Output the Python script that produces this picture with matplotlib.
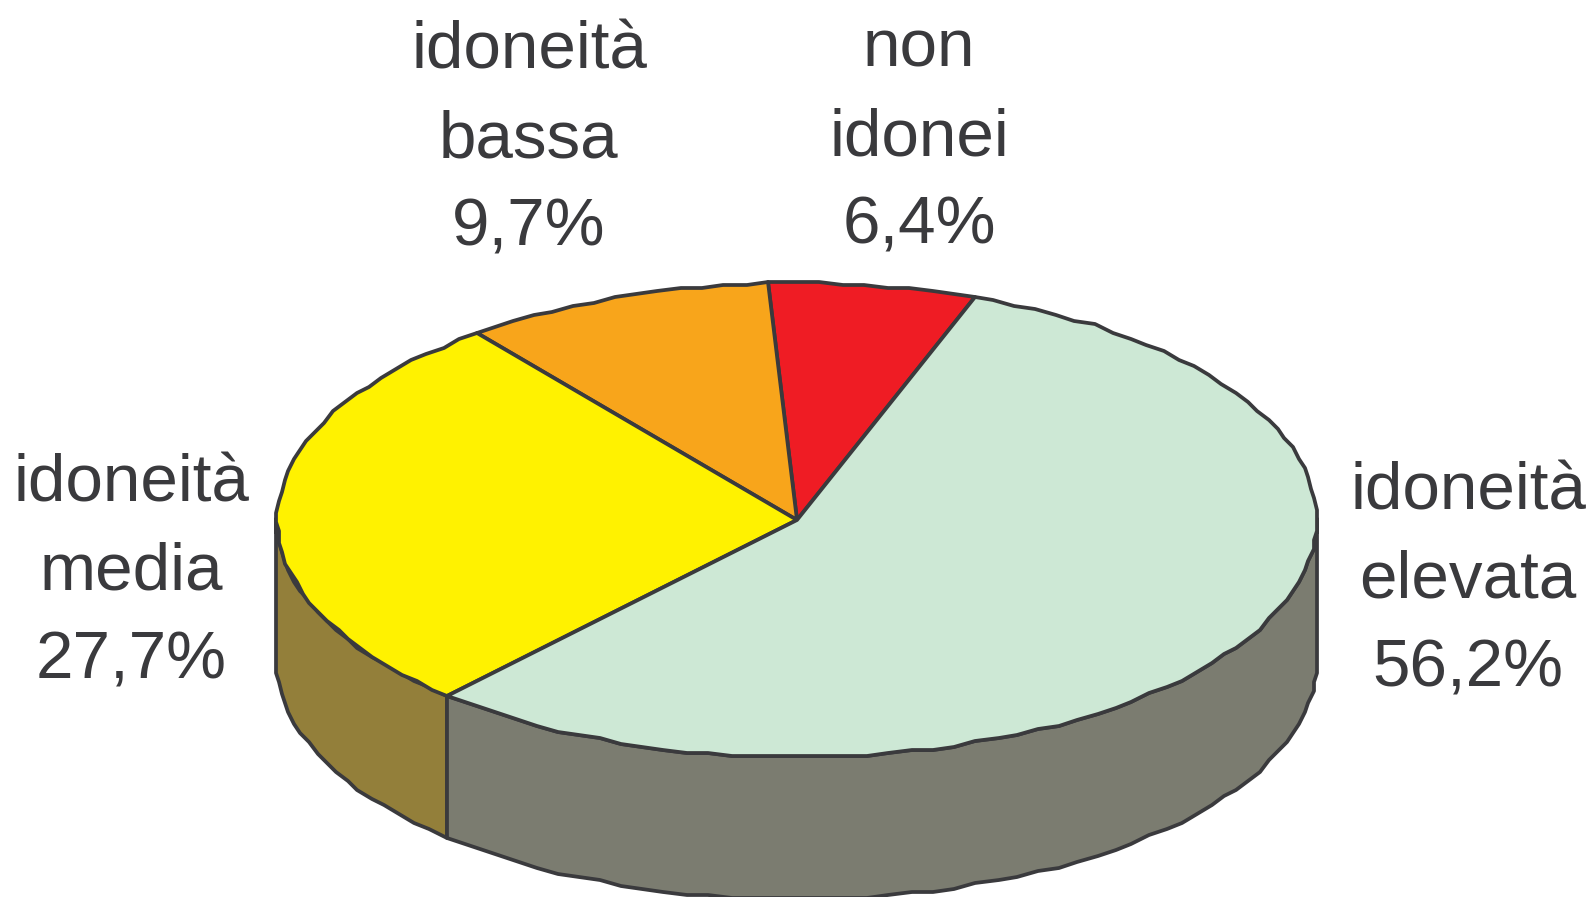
import numpy as np
from matplotlib import pyplot as plt
from matplotlib.patches import Polygon

# pie slices, going anticlockwise from the red one
labels = ["non\nidonei\n6,4%", "idoneità\nbassa\n9,7%", "idoneità\nmedia\n27,7%", "idoneità\nelevata\n56,2%"]
values = [6.4, 9.7, 27.7, 56.2]
top_colors = ["#ef1c24", "#f8a51b", "#fff200", "#cde8d5"]
side_colors = ["#8a1a1c", "#8f6a20", "#937f3a", "#7b7c70"]
label_pos = [(919, 138), (529, 140), (131, 573), (1468, 581)]

CX, CY = 797, 520
RX, RY = 520, 237
DEPTH = 142
START = 70.0
EDGE = "#3a3a3d"
TEXT = "#3a3a3d"
GRID = 3  # the outline of the original is visibly stepped


def rim(a0, a1, dy=0):
    t = np.radians(np.append(np.arange(a0, a1, 2.5), a1))
    x = np.round((CX + RX * np.cos(t)) / GRID) * GRID
    y = np.round((CY - RY * np.sin(t)) / GRID) * GRID
    return np.column_stack([x, y + dy])


fig = plt.figure(figsize=(15.92, 8.97), dpi=100)
ax = fig.add_axes([0, 0, 1, 1])
ax.set_xlim(0, 1592)
ax.set_ylim(897, 0)
ax.axis("off")

angles = START + np.concatenate([[0], np.cumsum(values)]) * 3.6

# side wall first, only the part facing the viewer (180-360 deg)
for i in range(len(values)):
    a0, a1 = max(angles[i], 180), min(angles[i + 1], 360)
    if a1 > a0:
        front = rim(a0, a1)
        back = rim(a0, a1, DEPTH)[::-1]
        ax.add_patch(Polygon(np.vstack([front, back]), closed=True, fc=side_colors[i], ec=EDGE, lw=2.7, joinstyle="round"))

# top face
for i in range(len(values)):
    pts = np.vstack([[CX, CY], rim(angles[i], angles[i + 1])])
    ax.add_patch(Polygon(pts, closed=True, fc=top_colors[i], ec=EDGE, lw=2.7, joinstyle="round"))

for lab, (x, y) in zip(labels, label_pos):
    ax.text(x, y, lab, ha="center", va="center", fontsize=48.5, family="Liberation Sans", color=TEXT, linespacing=1.56)

plt.savefig("out.png", dpi=100)
